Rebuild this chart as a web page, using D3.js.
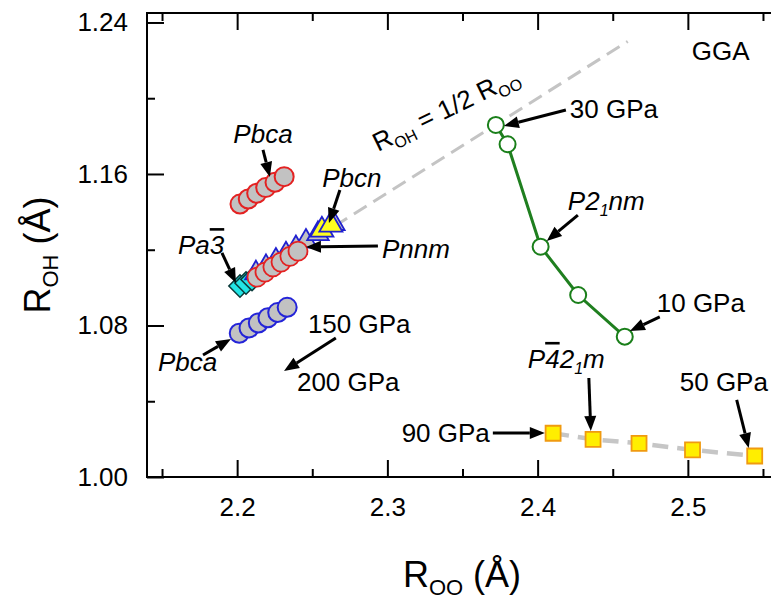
<!DOCTYPE html>
<html>
<head>
<meta charset="utf-8">
<script src="https://cdn.jsdelivr.net/npm/d3@7"></script>
<style>
body { margin: 0; background: #fff; }
text { font-family: Arial, "Liberation Sans", sans-serif; fill: #000; }
</style>
</head>
<body>
<div id="chart"></div>
<script>
var width = 771, height = 600;

// ---- data ----
var halfLineX = [2.2, 2.46], halfLineY = [1.1, 1.23];

var pbcaRedX = [2.2019, 2.2074, 2.2130, 2.2190, 2.2252, 2.2313];
var pbcaRedY = [1.1441, 1.1468, 1.1498, 1.1528, 1.1556, 1.1586];

var pbcaBlueX = [2.2014, 2.2079, 2.2141, 2.2205, 2.2270, 2.2333];
var pbcaBlueY = [1.0759, 1.0787, 1.0813, 1.0841, 1.0868, 1.0896];

var pa3X = [2.2019, 2.2059, 2.2099];
var pa3Y = [1.1008, 1.1024, 1.1043];

var pnnmTriX = [2.2125, 2.2192, 2.2258, 2.2325, 2.2391, 2.2458, 2.2538, 2.2644];
var pnnmTriY = [1.1077, 1.1110, 1.1144, 1.1177, 1.1210, 1.1244, 1.1284, 1.1337];

var pnnmCircX = [2.2132, 2.2185, 2.2238, 2.2292, 2.2351, 2.2405];
var pnnmCircY = [1.1055, 1.1082, 1.1109, 1.1135, 1.1165, 1.1193];

var pbcnX = [2.2564, 2.2624];
var pbcnY = [1.1304, 1.1331];

var p21nmX = [2.3722, 2.3800, 2.4020, 2.4270, 2.4580];
var p21nmY = [1.1859, 1.1757, 1.1216, 1.0961, 1.0741];

var p421mX = [2.4103, 2.4369, 2.4675, 2.5031, 2.5445];
var p421mY = [1.0231, 1.0199, 1.0178, 1.0143, 1.0111];

var xMajor = [2.2, 2.3, 2.4, 2.5], xMinor = [2.15, 2.25, 2.35, 2.45, 2.55];
var yMajor = [1.00, 1.08, 1.16, 1.24], yMinor = [1.04, 1.12, 1.20];

// annotations: [tailX, tailY, tipX, tipY]
var arrows = [
  [2.4188, 1.1938, 2.3775, 1.1853],
  [2.4268, 1.1383, 2.4061, 1.1246],
  [2.4813, 1.0845, 2.4614, 1.0771],
  [2.2172, 1.1727, 2.2218, 1.1584],
  [2.2684, 1.1515, 2.2611, 1.1341],
  [2.2937, 1.1220, 2.2458, 1.1214],
  [2.1899, 1.1183, 2.1992, 1.1024],
  [2.2657, 1.0734, 2.2312, 1.0560],
  [2.1773, 1.0644, 2.1959, 1.0729],
  [2.3702, 1.0232, 2.4048, 1.0232],
  [2.4341, 1.0523, 2.4354, 1.0243],
  [2.5325, 1.0407, 2.5405, 1.0153]
];

var svg = d3.select("#chart").append("svg")
  .attr("width", width).attr("height", height);

var x = d3.scaleLinear().domain([2.14, 2.56]).range([147, 778]);
var y = d3.scaleLinear().domain([1.0, 1.245]).range([477, 13]);

var zip = function(xs, ys) { return xs.map(function(v, i) { return [v, ys[i]]; }); };

// 1/2 line
svg.append("path")
  .attr("d", d3.line().x(function(d) { return x(d[0]); }).y(function(d) { return y(d[1]); })(zip(halfLineX, halfLineY)))
  .attr("stroke", "#c4c4c4").attr("stroke-width", 3).attr("stroke-dasharray", "15,8").attr("fill", "none");

// axes
svg.append("g").attr("transform", "translate(0,477)")
  .call(d3.axisBottom(x).tickValues(xMajor).tickSize(-17).tickSizeOuter(0).tickPadding(21).tickFormat(d3.format(".1f")));
svg.append("g").attr("transform", "translate(0,477)")
  .call(d3.axisBottom(x).tickValues(xMinor).tickSize(-8).tickSizeOuter(0).tickFormat(""));
svg.append("g").attr("transform", "translate(0,13)")
  .call(d3.axisTop(x).tickValues(xMajor).tickSize(-17).tickSizeOuter(0).tickFormat(""));
svg.append("g").attr("transform", "translate(0,13)")
  .call(d3.axisTop(x).tickValues(xMinor).tickSize(-8).tickSizeOuter(0).tickFormat(""));
svg.append("g").attr("transform", "translate(147,0)")
  .call(d3.axisLeft(y).tickValues(yMajor).tickSize(-17).tickSizeOuter(0).tickPadding(19).tickFormat(d3.format(".2f")));
svg.append("g").attr("transform", "translate(147,0)")
  .call(d3.axisLeft(y).tickValues(yMinor).tickSize(-8).tickSizeOuter(0).tickFormat(""));

svg.selectAll(".domain").remove();
svg.selectAll(".tick line").attr("stroke", "#000").attr("stroke-width", 2);
svg.selectAll(".tick text").style("font-size", "26px").style("font-family", "Arial, 'Liberation Sans', sans-serif");

svg.append("rect").attr("x", 147).attr("y", 13).attr("width", 778 - 147).attr("height", 477 - 13)
  .attr("fill", "none").attr("stroke", "#000").attr("stroke-width", 2);

// axis titles
var yt = svg.append("text").attr("transform", "translate(50,255) rotate(-90)")
  .attr("text-anchor", "middle").style("font-size", "36px");
yt.append("tspan").text("R");
yt.append("tspan").text("OH").style("font-size", "22px").attr("dy", 8);
yt.append("tspan").text(" (Å)").attr("dy", -8);

var xt = svg.append("text").attr("x", 462).attr("y", 587)
  .attr("text-anchor", "middle").style("font-size", "36px");
xt.append("tspan").text("R");
xt.append("tspan").text("OO").style("font-size", "22px").attr("dy", 8);
xt.append("tspan").text(" (Å)").attr("dy", -8);

// markers
function circles(xs, ys, stroke, fill, r, sw) {
  svg.append("g").selectAll("circle").data(zip(xs, ys)).enter().append("circle")
    .attr("cx", function(d) { return x(d[0]); }).attr("cy", function(d) { return y(d[1]); })
    .attr("r", r).attr("fill", fill).attr("stroke", stroke).attr("stroke-width", sw);
}
function symbols(xs, ys, type, size, stroke, fill, sw, rot) {
  svg.append("g").selectAll("path").data(zip(xs, ys)).enter().append("path")
    .attr("d", d3.symbol().type(type).size(size))
    .attr("transform", function(d) { return "translate(" + x(d[0]) + "," + y(d[1]) + ") rotate(" + (rot || 0) + ")"; })
    .attr("fill", fill).attr("stroke", stroke).attr("stroke-width", sw);
}

circles(pbcaRedX, pbcaRedY, "#e32222", "#c2c2c2", 9.5, 2);
circles(pbcaBlueX, pbcaBlueY, "#2424d8", "#c2c2c2", 9.5, 2);

symbols(pa3X, pa3Y, d3.symbolSquare, 250, "#0b3b3b", "#22e6e6", 1.5, 45);
symbols(pnnmTriX, pnnmTriY, d3.symbolTriangle, 200, "#2020d0", "#c2c2c2", 1.8);
circles(pnnmCircX, pnnmCircY, "#e32222", "#c2c2c2", 9.5, 1.8);
symbols(pbcnX, pbcnY, d3.symbolTriangle, 230, "#2020d0", "#ffff20", 1.8);

// P21nm
svg.append("path")
  .attr("d", d3.line().x(function(d) { return x(d[0]); }).y(function(d) { return y(d[1]); })(zip(p21nmX, p21nmY)))
  .attr("stroke", "#1f7f1f").attr("stroke-width", 3).attr("fill", "none");
circles(p21nmX, p21nmY, "#1a7f1a", "#fff", 8, 2);

// P-421m
svg.append("path")
  .attr("d", d3.line().x(function(d) { return x(d[0]); }).y(function(d) { return y(d[1]); })(zip(p421mX, p421mY)))
  .attr("stroke", "#c6c6c6").attr("stroke-width", 4.5).attr("stroke-dasharray", "16,9").attr("fill", "none");
symbols(p421mX, p421mY, d3.symbolSquare, 225, "#f09a10", "#ffee00", 1.8);

// arrows
arrows.forEach(function(a) {
  var x0 = x(a[0]), y0 = y(a[1]), x1 = x(a[2]), y1 = y(a[3]);
  var ang = Math.atan2(y1 - y0, x1 - x0), L = 15, W = 6;
  var bx = x1 - L * Math.cos(ang), by = y1 - L * Math.sin(ang);
  svg.append("line").attr("x1", x0).attr("y1", y0).attr("x2", bx).attr("y2", by)
    .attr("stroke", "#000").attr("stroke-width", 3);
  svg.append("path").attr("d", "M" + x1 + "," + y1 +
      "L" + (bx + W * Math.sin(ang)) + "," + (by - W * Math.cos(ang)) +
      "L" + (bx - W * Math.sin(ang)) + "," + (by + W * Math.cos(ang)) + "Z")
    .attr("fill", "#000");
});

// labels
function label(px, py, anchor, parts, italic) {
  var t = svg.append("text").attr("x", x(px)).attr("y", y(py)).attr("text-anchor", anchor)
    .style("font-size", "26px").style("font-style", italic ? "italic" : "normal");
  parts.forEach(function(p) {
    var s = t.append("tspan").text(p[0]);
    if (p[1] === "sub") s.style("font-size", "16px").attr("dy", 6);
    if (p[1] === "up") s.attr("dy", -6);
    if (p[1] === "bar") s.style("text-decoration", "overline");
  });
  return t;
}
label(2.4214, 1.1896, "start", [["30 GPa"]]);
label(2.4201, 1.1410, "start", [["P2"], ["1", "sub"], ["nm", "up"]], true);
label(2.4793, 1.0871, "start", [["10 GPa"]]);
label(2.2172, 1.1764, "middle", [["Pbca"]], true);
label(2.2764, 1.1531, "middle", [["Pbcn"]], true);
label(2.2964, 1.1156, "start", [["Pnnm"]], true);
label(2.1606, 1.1177, "start", [["Pa"], ["3", "bar"]], true);
label(2.2471, 1.0760, "start", [["150 GPa"]]);
label(2.2398, 1.0454, "start", [["200 GPa"]]);
label(2.1473, 1.0560, "start", [["Pbca"]], true);
label(2.3682, 1.0185, "end", [["90 GPa"]]);
label(2.3935, 1.0576, "start", [["P"], ["4", "bar"], ["2"], ["1", "sub"], ["m", "up"]], true);
label(2.4946, 1.0454, "start", [["50 GPa"]]);
label(2.5026, 1.2202, "start", [["GGA"]]);

var rl = svg.append("text").attr("transform", "translate(" + x(2.2937) + "," + y(1.1716) + ") rotate(-26)")
  .style("font-size", "26px");
rl.append("tspan").text("R");
rl.append("tspan").text("OH").style("font-size", "16px").attr("dy", 6);
rl.append("tspan").text(" = 1/2 R").attr("dy", -6);
rl.append("tspan").text("OO").style("font-size", "16px").attr("dy", 6);
</script>
</body>
</html>
